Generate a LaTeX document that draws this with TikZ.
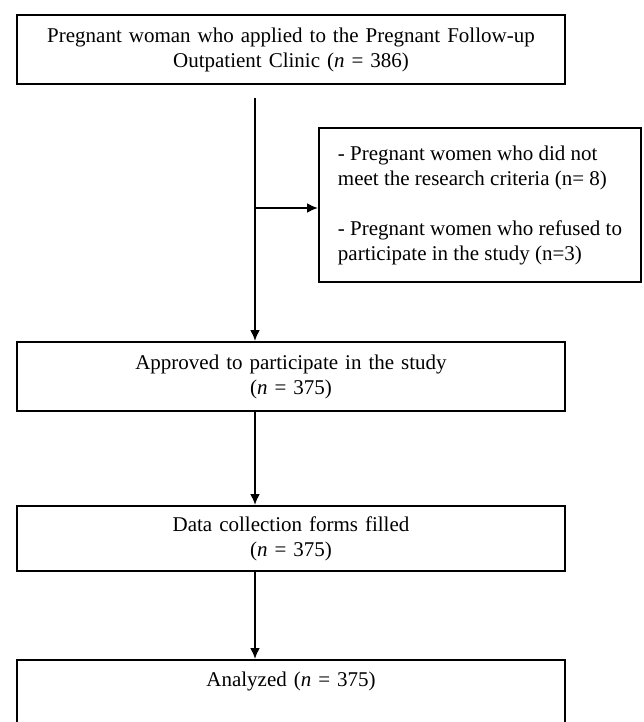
\documentclass[tikz,border=0pt]{standalone}
\usepackage{fontspec}
\setmainfont{Liberation Serif}
\usetikzlibrary{arrows.meta}
\usetikzlibrary{calc}
\tikzset{> = {Latex[length=11pt,width=10pt]}}
\tikzset{flowbox/.style={draw, line width=2pt, inner xsep=4pt, text width=540pt, align=center, font=\fontsize{21}{25}\selectfont},
	sidebox/.style={draw, line width=2pt, align=left, minimum width=322pt, minimum height=154pt, font=\fontsize{21}{25}\selectfont},
	flow/.style={line width=2pt}}

\begin{document}
\begin{tikzpicture}[x=1pt,y=-1pt]
	\clip (0,0) rectangle (643,722);
	\fill[white] (0,0) rectangle (643,722);
	\coordinate (col) at (255,0);
	\node[flowbox, minimum height=69pt] (top) at (291,49.5) {Pregnant woman who applied to the Pregnant Follow-up\\ Outpatient Clinic (\textit{n} = 386)};
	\node[sidebox] (excl) at (480,205) {- Pregnant women who did not\\ meet the research criteria (n= 8)\\[25pt] - Pregnant women who refused to\\ participate in the study (n=3)};
	\node[flowbox, minimum height=69pt] (approved) at (291,376.5) {Approved to participate in the study\\ (\textit{n} = 375)};
	\node[flowbox, minimum height=65pt] (forms) at (291,538.5) {Data collection forms filled\\ (\textit{n} = 375)};
	\node[flowbox, anchor=north, inner ysep=10pt, text height=16pt, text depth=80pt] (analyzed) at (291,659) {Analyzed (\textit{n} = 375)};
	\draw[flow,->] ($(top.south -| col)+(0,13)$)--(approved.north -| col);
	\draw[flow,->] (col |- 0,208)--(excl.west |- 0,208);
	\draw[flow,->] (approved.south -| col)--(forms.north -| col);
	\draw[flow,->] (forms.south -| col)--(analyzed.north -| col);
\end{tikzpicture}
\end{document}
